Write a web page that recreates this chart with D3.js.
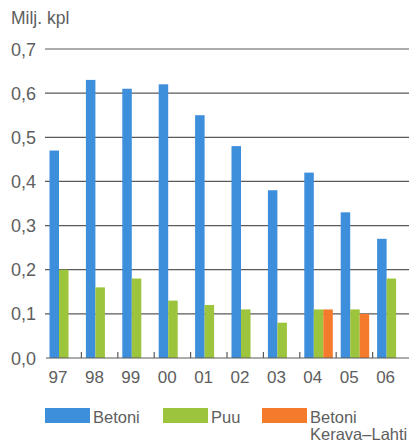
<!DOCTYPE html>
<html>
<head>
<meta charset="utf-8">
<script src="https://cdn.jsdelivr.net/npm/d3@7"></script>
<style>
  html, body { margin: 0; padding: 0; background: #fff; }
  svg { display: block; }
  text { font-family: "Liberation Sans", Arial, sans-serif; fill: #5e5e5e; }
</style>
</head>
<body>
<svg id="chart" width="415" height="444"></svg>
<script>
// Production by year, million units
const years = ["97", "98", "99", "00", "01", "02", "03", "04", "05", "06"];
const betoni = [0.47, 0.63, 0.61, 0.62, 0.55, 0.48, 0.38, 0.42, 0.33, 0.27];
const puu = [0.20, 0.16, 0.18, 0.13, 0.12, 0.11, 0.08, 0.11, 0.11, 0.18];
const betoniKL = [null, null, null, null, null, null, null, 0.11, 0.10, null];
const yTicks = [0, 0.1, 0.2, 0.3, 0.4, 0.5, 0.6, 0.7];

const seriesKeys = ["betoni", "puu", "betoniKL"];
const seriesColor = { betoni: "#3d8edb", puu: "#9cc43c", betoniKL: "#f47b2c" };
const seriesValues = { betoni, puu, betoniKL };

const svg = d3.select("#chart");

const x = d3.scaleBand().domain(years).range([45, 409]).paddingInner(0).paddingOuter(0);
const x1 = d3.scaleBand().domain(seriesKeys).range([4.5, 33]).padding(0);
const y = d3.scaleLinear().domain([0, 0.7]).range([358, 49]);

const fmt = d => d3.format(".1f")(d).replace(".", ",");

// Horizontal grid lines (above zero)
svg.append("g")
  .selectAll("line")
  .data(yTicks.filter(d => d > 0))
  .join("line")
  .attr("x1", 45).attr("x2", 409)
  .attr("y1", d => y(d)).attr("y2", d => y(d))
  .attr("stroke", "#5a5a5a").attr("stroke-width", 1.2);

// Y labels
svg.append("g")
  .selectAll("text")
  .data(yTicks)
  .join("text")
  .attr("x", 11)
  .attr("y", d => y(d) + 6.5)
  .attr("font-size", 18)
  .text(fmt);

svg.append("text")
  .attr("x", 11).attr("y", 24)
  .attr("font-size", 17.5)
  .text("Milj. kpl");

// Bars
const groups = svg.append("g")
  .selectAll("g")
  .data(years)
  .join("g")
  .attr("transform", d => `translate(${x(d)},0)`);

groups.selectAll("rect")
  .data((d, i) => seriesKeys
    .map(k => ({ key: k, value: seriesValues[k][i] }))
    .filter(e => e.value != null))
  .join("rect")
  .attr("x", d => x1(d.key))
  .attr("width", x1.bandwidth())
  .attr("y", d => y(d.value))
  .attr("height", d => y(0) - y(d.value))
  .attr("fill", d => seriesColor[d.key]);

// Baseline with small upward ticks between years
svg.append("line")
  .attr("x1", 46).attr("x2", 409)
  .attr("y1", y(0)).attr("y2", y(0))
  .attr("stroke", "#5a5a5a").attr("stroke-width", 1.2);

svg.append("g")
  .selectAll("line")
  .data(years.slice(1))
  .join("line")
  .attr("x1", d => x(d)).attr("x2", d => x(d))
  .attr("y1", y(0)).attr("y2", y(0) - 6)
  .attr("stroke", "#5a5a5a").attr("stroke-width", 1.2);

// Year labels
svg.append("g")
  .selectAll("text")
  .data(years)
  .join("text")
  .attr("x", d => x(d) + x1("puu") - 1)
  .attr("y", 383)
  .attr("text-anchor", "middle")
  .attr("font-size", 17)
  .text(d => d);

// Legend
const legend = [
  { key: "betoni", lines: ["Betoni"], x: 45 },
  { key: "puu", lines: ["Puu"], x: 163 },
  { key: "betoniKL", lines: ["Betoni", "Kerava–Lahti"], x: 262 }
];
const lg = svg.append("g")
  .selectAll("g")
  .data(legend)
  .join("g")
  .attr("transform", d => `translate(${d.x},408)`);
lg.append("rect")
  .attr("width", 45).attr("height", 15)
  .attr("fill", d => seriesColor[d.key]);
lg.append("text")
  .attr("x", 48).attr("y", 15)
  .attr("font-size", 16.5)
  .selectAll("tspan")
  .data(d => d.lines)
  .join("tspan")
  .attr("x", 48)
  .attr("dy", (d, i) => i === 0 ? 0 : 16.5)
  .text(d => d);
</script>
</body>
</html>
